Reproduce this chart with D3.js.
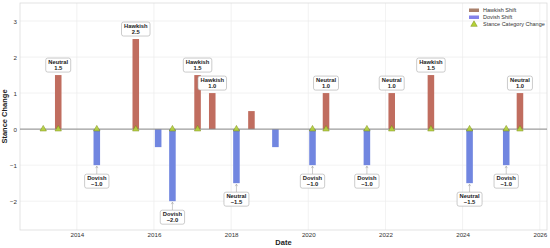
<!DOCTYPE html>
<html lang="en">
	<head>
		<meta charset="utf-8">
		<title>Stance changes</title>
		<script type="text/javascript" src="https://cdn.jsdelivr.net/npm/d3@7"></script>
		<style type="text/css">
			body { margin: 0; background: #fff; }
			text { font-family: "Liberation Sans", Arial, sans-serif; }
		</style>
	</head>
	<body>
		<script type="text/javascript">

			var w = 550;
			var h = 248;
			var margin = {top: 3, right: 3, bottom: 18, left: 20};

			// meeting dates, stance change and the stance label after the meeting
			var dates = ["2013-02-17", "2013-07-09", "2014-07-09", "2015-07-13", "2016-02-10",
						 "2016-06-24", "2017-02-17", "2017-07-06", "2018-02-20", "2018-07-12",
						 "2019-02-24", "2020-02-10", "2020-06-17", "2021-07-09", "2022-03-01",
						 "2023-03-07", "2024-03-07", "2025-02-17", "2025-06-27"];
			var changes = [0, 1.5, -1.0, 2.5, -0.5,
						   -2.0, 1.5, 1.0, -1.5, 0.5,
						   -0.5, -1.0, 1.0, -1.0, 1.0,
						   1.5, -1.5, -1.0, 1.0];
			var stances = ["Neutral", "Neutral", "Dovish", "Hawkish", "Hawkish",
						   "Dovish", "Hawkish", "Hawkish", "Neutral", "Neutral",
						   "Neutral", "Dovish", "Neutral", "Dovish", "Neutral",
						   "Hawkish", "Neutral", "Dovish", "Neutral"];
			var categoryChange = [1, 1, 1, 1, 0,
								  1, 1, 0, 1, 0,
								  0, 1, 1, 1, 1,
								  1, 1, 1, 1];
			var yTicks = [-2, -1, 0, 1, 2, 3];
			var legendLabels = ["Hawkish Shift", "Dovish Shift", "Stance Category Change"];

			var parse = d3.timeParse("%Y-%m-%d");
			var data = dates.map(function(d, i) {
				return {date: parse(d), v: changes[i], stance: stances[i], flag: categoryChange[i]};
			});

			var svg = d3.select("body")
						.append("svg")
						.attr("width", w)
						.attr("height", h);

			var xScale = d3.scaleTime()
						   .domain([parse("2012-07-12"), parse("2026-03-10")])
						   .range([margin.left, w - margin.right]);

			var yScale = d3.scaleLinear()
						   .domain([-2.8, 3.5])
						   .range([h - margin.bottom, margin.top]);

			var x0 = margin.left, x1 = w - margin.right;
			var y0 = margin.top, y1 = h - margin.bottom;

			//grid
			var years = d3.range(2014, 2027, 2).map(function(y) { return new Date(y, 0, 1); });
			svg.selectAll("line.vgrid")
			   .data(years)
			   .enter()
			   .append("line")
			   .attr("x1", function(d) { return xScale(d); })
			   .attr("x2", function(d) { return xScale(d); })
			   .attr("y1", y0)
			   .attr("y2", y1)
			   .attr("stroke", "#ececec")
			   .attr("stroke-width", 0.7);

			svg.selectAll("line.hgrid")
			   .data(yTicks)
			   .enter()
			   .append("line")
			   .attr("x1", x0)
			   .attr("x2", x1)
			   .attr("y1", function(d) { return yScale(d); })
			   .attr("y2", function(d) { return yScale(d); })
			   .attr("stroke", "#ececec")
			   .attr("stroke-width", 0.7);

			//frame
			svg.append("rect")
			   .attr("x", x0)
			   .attr("y", y0)
			   .attr("width", x1 - x0)
			   .attr("height", y1 - y0)
			   .attr("fill", "none")
			   .attr("stroke", "#dcdcdc")
			   .attr("stroke-width", 0.8);

			//axes
			var xAxis = d3.axisBottom(xScale).tickValues(years).tickFormat(d3.timeFormat("%Y")).tickSize(0).tickPadding(3);
			var yAxis = d3.axisLeft(yScale).tickValues(yTicks).tickFormat(function(d) { return d < 0 ? "\u2212" + Math.abs(d) : d; }).tickSize(0).tickPadding(3);

			var gx = svg.append("g").attr("transform", "translate(0," + y1 + ")").call(xAxis);
			var gy = svg.append("g").attr("transform", "translate(" + x0 + ",0)").call(yAxis);
			[gx, gy].forEach(function(g) {
				g.select(".domain").remove();
				g.selectAll("text").attr("font-size", "6.2px").attr("fill", "#333");
			});

			svg.append("text")
			   .attr("x", (x0 + x1) / 2)
			   .attr("y", 245)
			   .attr("text-anchor", "middle")
			   .attr("font-size", "7.5px")
			   .attr("font-weight", "bold")
			   .attr("fill", "#222")
			   .text("Date");

			svg.append("text")
			   .attr("transform", "translate(7," + ((y0 + y1) / 2) + ") rotate(-90)")
			   .attr("text-anchor", "middle")
			   .attr("font-size", "7.5px")
			   .attr("font-weight", "bold")
			   .attr("fill", "#222")
			   .text("Stance Change");

			//bars
			var halfDays = 31;
			function barX(d) { return xScale(d3.timeDay.offset(d.date, -halfDays)); }
			function barW(d) { return xScale(d3.timeDay.offset(d.date, halfDays)) - barX(d); }

			svg.selectAll("rect.bar")
			   .data(data.filter(function(d) { return d.v !== 0; }))
			   .enter()
			   .append("rect")
			   .attr("x", barX)
			   .attr("width", barW)
			   .attr("y", function(d) { return yScale(Math.max(0, d.v)); })
			   .attr("height", function(d) { return Math.abs(yScale(d.v) - yScale(0)); })
			   .attr("fill", function(d) { return d.v > 0 ? "#c06d5f" : "#7186e0"; });

			//zero line
			svg.append("line")
			   .attr("x1", x0)
			   .attr("x2", x1)
			   .attr("y1", yScale(0))
			   .attr("y2", yScale(0))
			   .attr("stroke", "#8a8a8a")
			   .attr("stroke-width", 1);

			//category change markers
			var tri = d3.symbol().type(d3.symbolTriangle).size(18);
			svg.selectAll("path.tri")
			   .data(data.filter(function(d) { return d.flag; }))
			   .enter()
			   .append("path")
			   .attr("d", tri)
			   .attr("transform", function(d) { return "translate(" + xScale(d.date) + "," + yScale(0) + ")"; })
			   .attr("fill", "#b4d236")
			   .attr("fill-opacity", 0.9)
			   .attr("stroke", "#7d8c18")
			   .attr("stroke-width", 0.5);

			//labels
			var labelled = data.filter(function(d) { return Math.abs(d.v) >= 1; });
			var lab = svg.selectAll("g.lab")
						 .data(labelled)
						 .enter()
						 .append("g");

			lab.each(function(d) {
				var g = d3.select(this);
				var cx = xScale(d.date);
				var end = yScale(d.v);
				var bh = 14;
				var top = d.v > 0 ? end - 3 - bh : end + 9;

				if (d.v < 0) {
					g.append("line")
					 .attr("x1", cx).attr("x2", cx)
					 .attr("y1", top).attr("y2", end + 1)
					 .attr("stroke", "#999")
					 .attr("stroke-width", 0.5);
					g.append("path")
					 .attr("d", "M" + (cx - 1.2) + "," + (end + 3) + "L" + cx + "," + (end + 1) + "L" + (cx + 1.2) + "," + (end + 3))
					 .attr("fill", "none")
					 .attr("stroke", "#999")
					 .attr("stroke-width", 0.5);
				}

				var rect = g.append("rect")
							.attr("y", top)
							.attr("height", bh)
							.attr("rx", 2)
							.attr("fill", "#fff")
							.attr("stroke", "#aaa")
							.attr("stroke-width", 0.6);

				var t1 = g.append("text")
						  .attr("x", cx)
						  .attr("y", top + 6)
						  .attr("text-anchor", "middle")
						  .attr("font-size", "5.8px")
						  .attr("font-weight", "bold")
						  .attr("fill", "#222")
						  .text(d.stance);
				g.append("text")
				 .attr("x", cx)
				 .attr("y", top + 12)
				 .attr("text-anchor", "middle")
				 .attr("font-size", "5.8px")
				 .attr("font-weight", "bold")
				 .attr("fill", "#222")
				 .text((d.v < 0 ? "\u2212" : "") + Math.abs(d.v).toFixed(1));

				var tw = t1.node().getComputedTextLength();
				rect.attr("x", cx - tw / 2 - 2.5).attr("width", tw + 5);
			});

			//legend
			var legend = svg.append("g").attr("transform", "translate(469,0)");
			legend.append("rect").attr("x", 0).attr("y", 8.5).attr("width", 10).attr("height", 3.5).attr("fill", "#a9806b");
			legend.append("rect").attr("x", 0).attr("y", 15.5).attr("width", 10).attr("height", 3.5).attr("fill", "#8482ea");
			legend.append("path")
				  .attr("d", tri)
				  .attr("transform", "translate(5,24.5)")
				  .attr("fill", "#b4d236")
				  .attr("stroke", "#7d8c18")
				  .attr("stroke-width", 0.5);
			legend.selectAll("text")
				  .data(legendLabels)
				  .enter()
				  .append("text")
				  .attr("x", 14)
				  .attr("y", function(d, i) { return 12.2 + i * 7; })
				  .attr("font-size", "5.5px")
				  .attr("fill", "#333")
				  .text(function(d) { return d; });

		</script>
	</body>
</html>
